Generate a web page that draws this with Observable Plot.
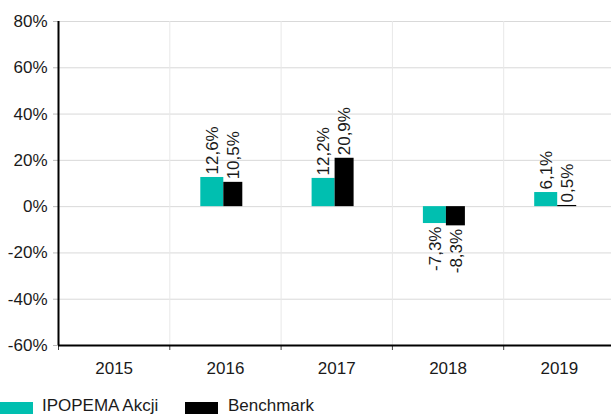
<!DOCTYPE html>
<html><head><meta charset="utf-8">
<script src="https://cdn.jsdelivr.net/npm/d3@7"></script>
<script src="https://cdn.jsdelivr.net/npm/@observablehq/plot@0.6"></script>
<style>
body{margin:0;background:#fff;}
#wrap{position:relative;width:611px;height:414px;overflow:hidden;font-family:"Liberation Sans",Arial,sans-serif;color:#1a1a1a;}
#wrap svg{position:absolute;left:0;top:0;}
.sw{position:absolute;top:402px;width:33px;height:14px;}
.lt{position:absolute;top:397px;font-size:17px;line-height:17px;white-space:nowrap;}
</style></head><body><div id="wrap"></div>
<script>
const years = [2015, 2016, 2017, 2018, 2019];
const seriesNames = ["IPOPEMA Akcji", "Benchmark"];
const ipopema = [null, 12.6, 12.2, -7.3, 6.1];
const benchmark = [null, 10.5, 20.9, -8.3, 0.5];
const yTicks = [-60, -40, -20, 0, 20, 40, 60, 80];
const colors = ["#00bfb0", "#000000"];

const fmt = v => v.toFixed(1).replace(".", ",") + "%";
const rowsFor = (vals, name) => years.map((y, i) => ({year: y, series: name, value: vals[i]})).filter(d => d.value != null);
const ipoRows = rowsFor(ipopema, seriesNames[0]);
const benRows = rowsFor(benchmark, seriesNames[1]);
const bounds = years.slice(0, -1).map(y => y + 0.5);

const labelMarks = (rows, dx) => [
  Plot.text(rows.filter(d => d.value >= 0), {x: "year", y: "value", text: d => fmt(d.value), rotate: -90, textAnchor: "start", dx, dy: -3, fontSize: 17, fill: "#1a1a1a"}),
  Plot.text(rows.filter(d => d.value < 0), {x: "year", y: "value", text: d => fmt(d.value), rotate: -90, textAnchor: "end", dx, dy: 3, fontSize: 17, fill: "#1a1a1a"})
];

const chart = Plot.plot({
  width: 611, height: 385,
  marginLeft: 58, marginTop: 21, marginRight: 0, marginBottom: 40,
  x: {type: "linear", domain: [years[0] - 0.5, years[years.length - 1] + 0.5], range: [58, 614.5], label: null},
  y: {domain: [-60, 80], range: [345, 21], label: null},
  style: {fontFamily: "'Liberation Sans', Arial, sans-serif", fontSize: "17px", color: "#1a1a1a", background: "#fff"},
  marks: [
    Plot.ruleY(yTicks, {stroke: "#d9d9d9", strokeWidth: 1}),
    Plot.ruleX(bounds, {stroke: "#e8e8e8", strokeWidth: 1}),
    Plot.rectY(ipoRows, {x1: d => d.year - 0.5, x2: d => d.year + 0.5, y1: 0, y2: "value", fill: colors[0], insetLeft: 31, insetRight: 57.3}),
    Plot.rectY(benRows, {x1: d => d.year - 0.5, x2: d => d.year + 0.5, y1: 0, y2: "value", fill: colors[1], insetLeft: 54, insetRight: 38.3}),
    ...labelMarks(ipoRows, -13),
    ...labelMarks(benRows, 8),
    Plot.axisY(yTicks, {label: null, tickFormat: d => d + "%", tickSize: 5, tickPadding: 6, stroke: "#bbb", fontSize: 17, fill: "#1a1a1a"}),
    Plot.axisX([years[0] - 0.5, ...bounds], {label: null, tickSize: 5, tickFormat: () => "", stroke: "#444"}),
    Plot.axisX(years, {label: null, tickSize: 0, tickPadding: 16, tickFormat: d => String(d), fontSize: 17, fill: "#1a1a1a"}),
    Plot.ruleX([years[0] - 0.5], {stroke: "#000", strokeWidth: 2}),
    Plot.ruleY([-60], {stroke: "#000", strokeWidth: 2})
  ]
});
const wrap = document.getElementById("wrap");
wrap.appendChild(chart);
const legendPos = [{sw: 0, tx: 42}, {sw: 185, tx: 228}];
seriesNames.forEach((n, i) => {
  const s = document.createElement("div");
  s.className = "sw"; s.style.left = legendPos[i].sw + "px"; s.style.background = colors[i];
  const t = document.createElement("div");
  t.className = "lt"; t.style.left = legendPos[i].tx + "px"; t.textContent = n;
  wrap.appendChild(s); wrap.appendChild(t);
});
</script></body></html>
